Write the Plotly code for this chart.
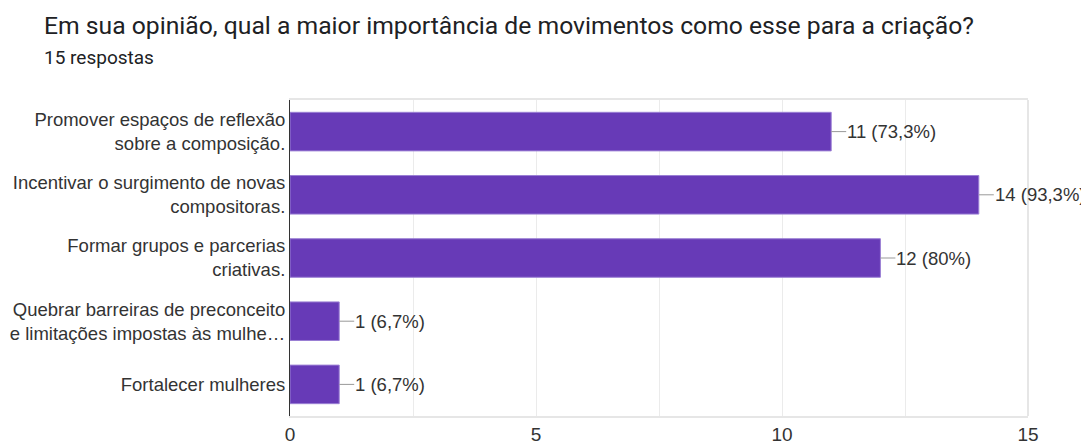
import plotly.graph_objects as go

categories = [
    "Promover espaços de reflexão<br>sobre a composição.",
    "Incentivar o surgimento de novas<br>compositoras.",
    "Formar grupos e parcerias<br>criativas.",
    "Quebrar barreiras de preconceito<br>e limitações impostas às mulhe…",
    "Fortalecer mulheres",
]
counts = [11, 14, 12, 1, 1]
percent_labels = ["73,3%", "93,3%", "80%", "6,7%", "6,7%"]
x_ticks = [0, 5, 10, 15]

title_text = "Em sua opinião, qual a maior importância de movimentos como esse para a criação?"
subtitle_text = "15 respostas"

BAR = "#673ab7"
BAR_EDGE = "#9a7fd4"
TEXT = "#333333"
SANS = "Liberation Sans, Arial, sans-serif"

# page body adds an 8px offset; compensate in margins
OFF = 8
L, R, T, B = 290 - OFF, 61 + OFF, 100 - OFF, 25 + OFF
PW = 1089 - L - R

fig = go.Figure()
fig.add_trace(go.Bar(
    y=categories, x=counts, orientation="h",
    marker=dict(color=BAR, line=dict(color=BAR_EDGE, width=1)),
    width=0.61, hoverinfo="skip",
))

for c, v, p in zip(categories, counts, percent_labels):
    fig.add_annotation(
        x=v, y=c, xref="x", yref="y",
        text=f"{v} ({p})", showarrow=True, arrowhead=0, arrowwidth=1,
        arrowcolor="#999999", ax=15, ay=0, xanchor="left",
        font=dict(family=SANS, size=18.5, color=TEXT),
        borderpad=0,
    )

title_x = (42 - OFF - L) / PW
fig.add_annotation(
    text=title_text, xref="paper", yref="paper", x=title_x, y=1.0,
    xanchor="left", yanchor="middle", yshift=75, showarrow=False,
    font=dict(family="Roboto, sans-serif", size=24.7, color="#202124"),
)
fig.add_annotation(
    text=subtitle_text, xref="paper", yref="paper", x=title_x, y=1.0,
    xanchor="left", yanchor="middle", yshift=43, showarrow=False,
    font=dict(family="Roboto, sans-serif", size=19, color="#202124"),
)

# right border of plot area
fig.add_shape(type="line", xref="x domain", yref="y domain",
              x0=1, x1=1, y0=0, y1=1, line=dict(color="#e6e6e6", width=2))

fig.update_layout(
    width=1089, height=441,
    margin=dict(l=L, r=R, t=T, b=B),
    plot_bgcolor="white", paper_bgcolor="white",
    showlegend=False, bargap=0.39,
    font=dict(family=SANS, size=18.5, color=TEXT),
    xaxis=dict(
        range=[0, 15], tickvals=x_ticks, showgrid=True, gridcolor="#ebebeb",
        gridwidth=1, zeroline=False, showline=True, linecolor="#e6e6e6",
        linewidth=2, mirror=True, ticks="", tickfont=dict(size=19, color=TEXT),
        automargin=False,
        minor=dict(dtick=2.5, showgrid=True, gridcolor="#ebebeb", gridwidth=1),
    ),
    yaxis=dict(
        autorange="reversed", showgrid=False, zeroline=False,
        showline=True, linecolor="#333333", linewidth=1, ticks="",
        tickfont=dict(size=18.5, color=TEXT), automargin=False,
    ),
)

fig.write_html("out.html")
